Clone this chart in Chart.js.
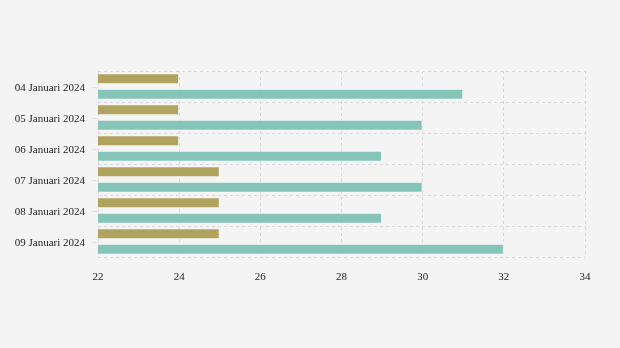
<!DOCTYPE html>
<html>
<head>
<meta charset="utf-8">
<script src="https://cdn.jsdelivr.net/npm/chart.js@4/dist/chart.umd.min.js"></script>
<style>
	html, body { margin: 0; padding: 0; background: #f4f4f4; }
	#wrap { width: 620px; height: 348px; }
</style>
</head>
<body>
<div id="wrap"><canvas id="myChart" width="620" height="348"></canvas></div>
<script>
var dates = ["04 Januari 2024", "05 Januari 2024", "06 Januari 2024", "07 Januari 2024", "08 Januari 2024", "09 Januari 2024"];
var seriesA = [24, 24, 24, 25, 25, 25];
var seriesB = [31, 30, 29, 30, 29, 32];
var xTicks = [22, 24, 26, 28, 30, 32, 34];

var gridColor = "#d8d8d8";
var textColor = "#222222";

// small tick marks at the middle of each category (grid lines sit between them)
var yTickMarks = {
	id: "yTickMarks",
	afterDatasetsDraw(c) {
		var y = c.scales.y;
		var ctx = c.ctx;
		ctx.save();
		ctx.strokeStyle = "#e2e2e2";
		ctx.lineWidth = 1;
		dates.forEach(function (d, i) {
			var py = Math.round(y.getPixelForValue(i)) + 0.5;
			ctx.beginPath();
			ctx.moveTo(y.right - 6, py);
			ctx.lineTo(y.right, py);
			ctx.stroke();
		});
		ctx.restore();
	},
};

var chart = new Chart(document.getElementById("myChart").getContext("2d"), {
	type: "bar",
	data: {
		labels: dates,
		datasets: [
			{
				data: seriesA,
				backgroundColor: "#b0a35e",
				borderColor: "rgba(255,255,255,0.35)",
				borderWidth: 1,
				barPercentage: 0.72,
				categoryPercentage: 1.0,
			},
			{
				data: seriesB,
				backgroundColor: "#84c5b8",
				borderColor: "rgba(255,255,255,0.35)",
				borderWidth: 1,
				barPercentage: 0.72,
				categoryPercentage: 1.0,
			},
		],
	},
	options: {
		indexAxis: "y",
		responsive: false,
		animation: false,
		layout: { padding: { top: 71, right: 35, bottom: 61, left: 0 } },
		plugins: {
			legend: { display: false },
			tooltip: { enabled: false },
		},
		scales: {
			x: {
				min: 22,
				max: 34,
				afterBuildTicks(s) {
					s.ticks = xTicks.map((v) => ({ value: v }));
				},
				afterFit(s) {
					s.height = 30;
				},
				border: { display: false, dash: [3, 3] },
				grid: { color: gridColor, drawTicks: false },
				ticks: {
					color: textColor,
					padding: 14,
					font: { family: "Liberation Serif", size: 11 },
				},
			},
			y: {
				afterFit(s) {
					s.width = 98;
				},
				border: { display: false, dash: [3, 3] },
				grid: { color: gridColor, offset: true, drawTicks: false },
				ticks: {
					color: textColor,
					padding: 13,
					labelOffset: 1.5,
					font: { family: "Liberation Serif", size: 11 },
				},
			},
		},
	},
	plugins: [yTickMarks],
});
</script>
</body>
</html>
